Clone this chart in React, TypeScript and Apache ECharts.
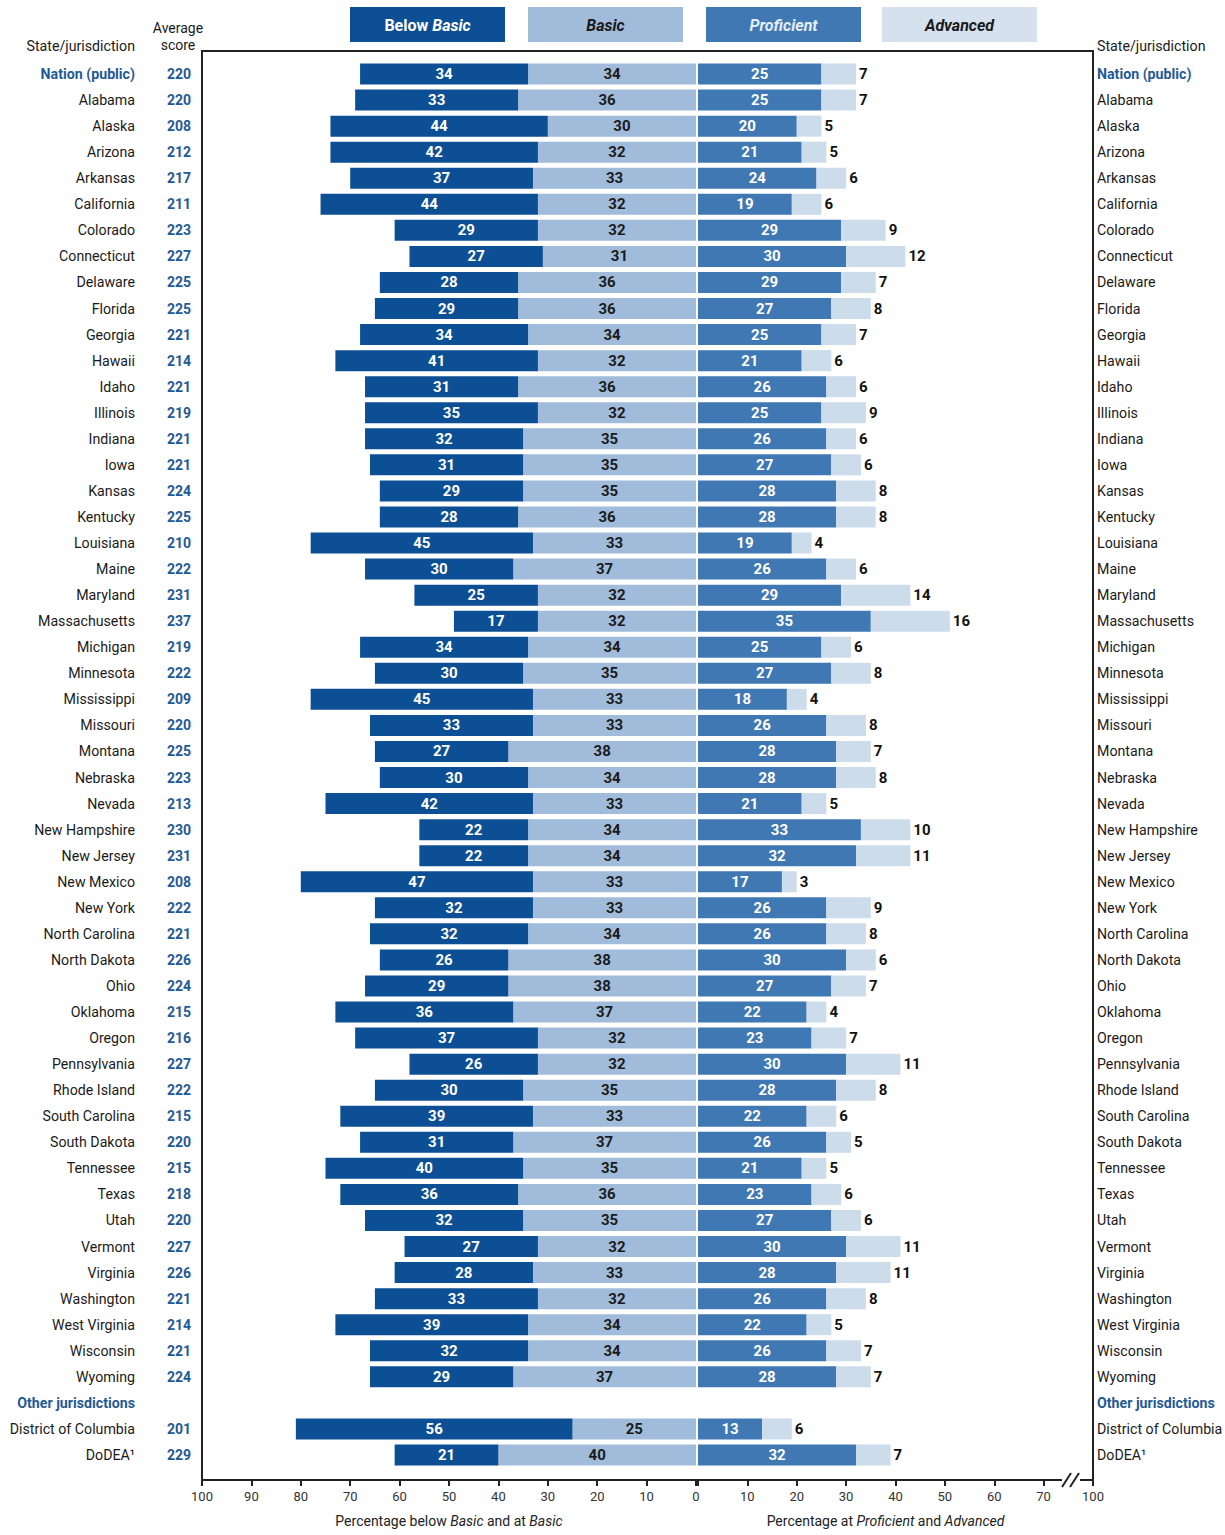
import React, { useEffect, useRef } from 'react';
import * as echarts from 'echarts';

const states = [
  'Nation (public)', 'Alabama', 'Alaska', 'Arizona', 'Arkansas', 'California', 'Colorado', 'Connecticut',
  'Delaware', 'Florida', 'Georgia', 'Hawaii', 'Idaho', 'Illinois', 'Indiana', 'Iowa', 'Kansas', 'Kentucky',
  'Louisiana', 'Maine', 'Maryland', 'Massachusetts', 'Michigan', 'Minnesota', 'Mississippi', 'Missouri',
  'Montana', 'Nebraska', 'Nevada', 'New Hampshire', 'New Jersey', 'New Mexico', 'New York', 'North Carolina',
  'North Dakota', 'Ohio', 'Oklahoma', 'Oregon', 'Pennsylvania', 'Rhode Island', 'South Carolina',
  'South Dakota', 'Tennessee', 'Texas', 'Utah', 'Vermont', 'Virginia', 'Washington', 'West Virginia',
  'Wisconsin', 'Wyoming', 'Other jurisdictions', 'District of Columbia', 'DoDEA¹',
];

const scores = [
  220, 220, 208, 212, 217, 211, 223, 227, 225, 225, 221, 214, 221, 219, 221, 221, 224, 225,
  210, 222, 231, 237, 219, 222, 209, 220, 225, 223, 213, 230, 231, 208, 222, 221,
  226, 224, 215, 216, 227, 222, 215, 220, 215, 218, 220, 227, 226, 221, 214,
  221, 224, null, 201, 229,
];

const belowBasic = [
  34, 33, 44, 42, 37, 44, 29, 27, 28, 29, 34, 41, 31, 35, 32, 31, 29, 28,
  45, 30, 25, 17, 34, 30, 45, 33, 27, 30, 42, 22, 22, 47, 32, 32,
  26, 29, 36, 37, 26, 30, 39, 31, 40, 36, 32, 27, 28, 33, 39,
  32, 29, null, 56, 21,
];

const basic = [
  34, 36, 30, 32, 33, 32, 32, 31, 36, 36, 34, 32, 36, 32, 35, 35, 35, 36,
  33, 37, 32, 32, 34, 35, 33, 33, 38, 34, 33, 34, 34, 33, 33, 34,
  38, 38, 37, 32, 32, 35, 33, 37, 35, 36, 35, 32, 33, 32, 34,
  34, 37, null, 25, 40,
];

const proficient = [
  25, 25, 20, 21, 24, 19, 29, 30, 29, 27, 25, 21, 26, 25, 26, 27, 28, 28,
  19, 26, 29, 35, 25, 27, 18, 26, 28, 28, 21, 33, 32, 17, 26, 26,
  30, 27, 22, 23, 30, 28, 22, 26, 21, 23, 27, 30, 28, 26, 22,
  26, 28, null, 13, 32,
];

const advanced = [
  7, 7, 5, 5, 6, 6, 9, 12, 7, 8, 7, 6, 6, 9, 6, 6, 8, 8,
  4, 6, 14, 16, 6, 8, 4, 8, 7, 8, 5, 10, 11, 3, 9, 8,
  6, 7, 4, 7, 11, 8, 6, 5, 5, 6, 6, 11, 11, 8, 5,
  7, 7, null, 6, 7,
];

const highlighted = ['Nation (public)', 'Other jurisdictions'];
const legendItems = ['Below Basic', 'Basic', 'Proficient', 'Advanced'];

const FF = 'Roboto, "Liberation Sans", sans-serif';
const NAME_FS = 14.2;
const C_BB = '#0d4f94';
const C_B = '#a0bcda';
const C_P = '#3f78b3';
const C_A = '#cddcea';
const C_HL = '#1f5a96';
const C_TXT = '#1a1a1a';

export default function App() {
  const ref = useRef<HTMLDivElement>(null);

  useEffect(() => {
    if (!ref.current) return;
    const chart = echarts.init(ref.current, null, { renderer: 'svg' });

    const barLabel = (color: string) => ({
      show: true,
      position: 'inside',
      color,
      fontFamily: FF,
      fontSize: 15,
      fontWeight: 'bold',
    });

    const legendBox = (x: number, fill: string, text: string, textColor: string) => [
      { type: 'rect', shape: { x, y: 7, width: 155, height: 35 }, style: { fill } },
      {
        type: 'text',
        x: x + 77.5,
        y: 25,
        style: {
          text,
          fill: textColor,
          align: 'center',
          verticalAlign: 'middle',
          font: `italic bold 16px ${FF}`,
          rich: {
            u: { fontStyle: 'normal', fontWeight: 'bold', fontSize: 16, fontFamily: FF, fill: textColor },
            i: { fontStyle: 'italic', fontWeight: 'bold', fontSize: 16, fontFamily: FF, fill: textColor },
          },
        },
      },
    ];

    const option: any = {
      animation: false,
      grid: [
        { left: 202, width: 494, top: 61, height: 1407, outerBoundsMode: 'none', containLabel: false },
        { left: 698, width: 395, top: 61, height: 1407, outerBoundsMode: 'none', containLabel: false },
      ],
      xAxis: [
        {
          type: 'value', gridIndex: 0, inverse: true, min: 0, max: 100, interval: 10,
          position: 'bottom', offset: 12,
          axisLine: { show: true, lineStyle: { color: '#222', width: 2 } },
          axisTick: { show: true, length: 6, lineStyle: { color: '#222', width: 2 } },
          axisLabel: { fontFamily: FF, fontSize: 13, color: '#333', margin: 10 },
          splitLine: { show: false },
          name: '{n|Percentage below }{i|Basic}{n| and at }{i|Basic}',
          nameLocation: 'middle', nameGap: 34,
          nameTextStyle: {
            rich: {
              n: { fontFamily: FF, fontSize: 14, color: '#222' },
              i: { fontFamily: FF, fontSize: 14, color: '#222', fontStyle: 'italic' },
            },
          },
        },
        {
          type: 'value', gridIndex: 1, min: 0, max: 80, interval: 10,
          position: 'bottom', offset: 12,
          axisLine: { show: true, lineStyle: { color: '#222', width: 2 } },
          axisTick: { show: true, length: 6, lineStyle: { color: '#222', width: 2 } },
          axisLabel: {
            fontFamily: FF, fontSize: 13, color: '#333', margin: 10,
            formatter: (v: number) => (v === 0 ? '' : v === 80 ? '100' : String(v)),
          },
          splitLine: { show: false },
          name: '{n|Percentage at }{i|Proficient}{n| and }{i|Advanced}',
          nameLocation: 'middle', nameGap: 34,
          nameTextStyle: {
            padding: [0, 20, 0, 0],
            rich: {
              n: { fontFamily: FF, fontSize: 14, color: '#222' },
              i: { fontFamily: FF, fontSize: 14, color: '#222', fontStyle: 'italic' },
            },
          },
        },
      ],
      yAxis: [
        {
          type: 'category', gridIndex: 0, data: states, inverse: true, position: 'left',
          axisLine: { show: false }, axisTick: { show: false },
          axisLabel: {
            interval: 0, margin: 11,
            formatter: (v: string, i: number) => {
              const hl = highlighted.includes(v);
              const s = scores[i];
              return `{${hl ? 'hn' : 'n'}|${v}}{s|${s == null ? ' ' : s}}`;
            },
            rich: {
              n: { width: 130, align: 'right', fontFamily: FF, fontSize: NAME_FS, color: C_TXT },
              hn: { width: 130, align: 'right', fontFamily: FF, fontSize: NAME_FS, color: C_HL, fontWeight: 'bold' },
              s: { width: 56, align: 'right', fontFamily: FF, fontSize: 14, color: C_HL, fontWeight: 'bold' },
            },
          },
        },
        {
          type: 'category', gridIndex: 1, data: states, inverse: true, position: 'right',
          axisLine: { show: false }, axisTick: { show: false },
          axisLabel: {
            interval: 0, margin: 4,
            formatter: (v: string) => (highlighted.includes(v) ? `{hn|${v}}` : `{n|${v}}`),
            rich: {
              n: { fontFamily: FF, fontSize: NAME_FS, color: C_TXT },
              hn: { fontFamily: FF, fontSize: NAME_FS, color: C_HL, fontWeight: 'bold' },
            },
          },
        },
      ],
      series: [
        {
          name: legendItems[1], type: 'bar', xAxisIndex: 0, yAxisIndex: 0, stack: 'left',
          data: basic, barWidth: 21, itemStyle: { color: C_B }, label: barLabel(C_TXT),
        },
        {
          name: legendItems[0], type: 'bar', xAxisIndex: 0, yAxisIndex: 0, stack: 'left',
          data: belowBasic, barWidth: 21, itemStyle: { color: C_BB }, label: barLabel('#ffffff'),
        },
        {
          name: legendItems[2], type: 'bar', xAxisIndex: 1, yAxisIndex: 1, stack: 'right',
          data: proficient, barWidth: 21, itemStyle: { color: C_P }, label: barLabel('#ffffff'),
        },
        {
          name: legendItems[3], type: 'bar', xAxisIndex: 1, yAxisIndex: 1, stack: 'right',
          data: advanced, barWidth: 21, itemStyle: { color: C_A },
          label: { ...barLabel('#111'), position: 'right', distance: 3 },
        },
      ],
      graphic: [
        { type: 'rect', z: 0, shape: { x: 202, y: 51, width: 891, height: 1429 }, style: { fill: 'none', stroke: '#222', lineWidth: 2 } },
        { type: 'rect', z: 100, shape: { x: 1062, y: 1475, width: 18, height: 10 }, style: { fill: '#fff' } },
        { type: 'line', z: 101, shape: { x1: 1062, y1: 1487, x2: 1071, y2: 1473 }, style: { stroke: '#222', lineWidth: 2 } },
        { type: 'line', z: 101, shape: { x1: 1070, y1: 1487, x2: 1079, y2: 1473 }, style: { stroke: '#222', lineWidth: 2 } },
        ...legendBox(350, C_BB, '{u|Below }{i|Basic}', '#ffffff'),
        ...legendBox(528, C_B, '{i|Basic}', C_TXT),
        ...legendBox(706, C_P, '{i|Proficient}', '#e4eef8'),
        ...legendBox(882, '#d5e1ed', '{i|Advanced}', C_TXT),
        { type: 'text', x: 135, y: 46, style: { text: 'State/jurisdiction', align: 'right', verticalAlign: 'middle', font: `${NAME_FS}px ${FF}`, fill: C_TXT } },
        { type: 'text', x: 178, y: 28, style: { text: 'Average', align: 'center', verticalAlign: 'middle', font: `14px ${FF}`, fill: C_TXT } },
        { type: 'text', x: 178, y: 45, style: { text: 'score', align: 'center', verticalAlign: 'middle', font: `14px ${FF}`, fill: C_TXT } },
        { type: 'text', x: 1097, y: 46, style: { text: 'State/jurisdiction', align: 'left', verticalAlign: 'middle', font: `${NAME_FS}px ${FF}`, fill: C_TXT } },
      ],
    };

    chart.setOption(option);
    return () => chart.dispose();
  }, []);

  return (
    <div
      ref={ref}
      style={{ position: 'absolute', left: 0, top: 0, width: 1225, height: 1535, background: '#fff' }}
    />
  );
}
